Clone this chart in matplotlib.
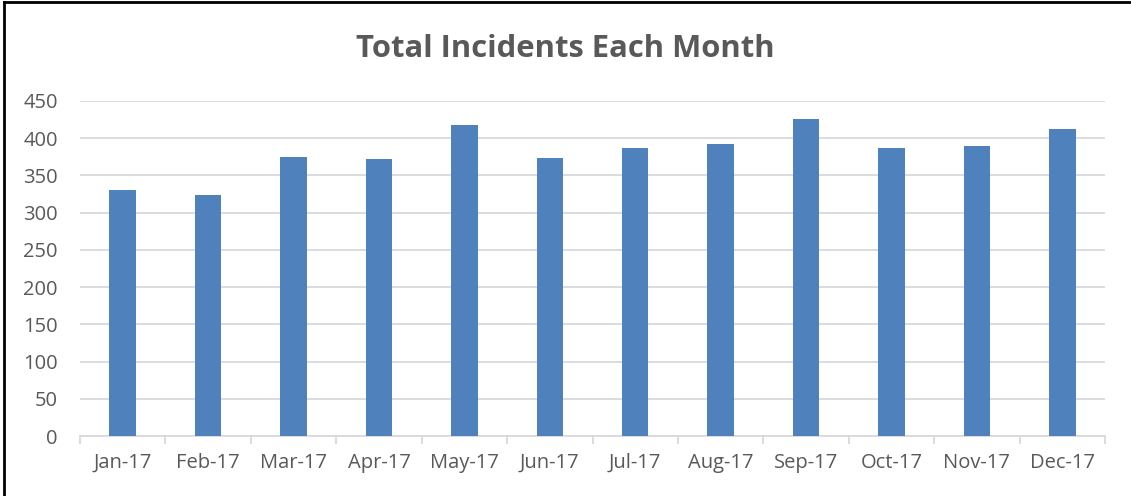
import numpy as np
import matplotlib.pyplot as plt
from matplotlib.lines import Line2D

months = ["Jan-17", "Feb-17", "Mar-17", "Apr-17", "May-17", "Jun-17",
          "Jul-17", "Aug-17", "Sep-17", "Oct-17", "Nov-17", "Dec-17"]
incidents = [330, 324, 375, 372, 418, 374, 387, 392, 426, 387, 389, 413]
y_ticks = [0, 50, 100, 150, 200, 250, 300, 350, 400, 450]

plt.rcParams['font.family'] = ['Open Sans', 'DejaVu Sans']
text_color = "#595959"

fig = plt.figure(figsize=(11.31, 4.96), dpi=100)
ax = fig.add_axes([80 / 1131, 60 / 496, 1025 / 1131, 335 / 496])

x = np.arange(len(months))
ax.bar(x, incidents, width=0.31, color="#4f81bd", zorder=3)

ax.set_xlim(-0.5, len(months) - 0.5)
ax.set_ylim(0, 450)
ax.set_yticks(y_ticks)
ax.yaxis.grid(True, color="#d9d9d9", linewidth=1.3, zorder=0)
ax.tick_params(axis="y", length=0, labelsize=14.5, labelcolor=text_color, pad=16)

ax.set_xticks(x)
ax.set_xticklabels(months)
ax.set_xticks(np.arange(-0.5, len(months)), minor=True)
ax.tick_params(axis="x", which="major", length=0, labelsize=14.5,
               labelcolor=text_color, pad=12)
ax.tick_params(axis="x", which="minor", length=6, color="#d9d9d9", width=1.3)

for side in ["top", "right", "left"]:
    ax.spines[side].set_visible(False)
ax.spines["bottom"].set_color("#d9d9d9")
ax.spines["bottom"].set_linewidth(1.3)

fig.text(0.5, 1 - 57 / 496, "Total Incidents Each Month", ha="center", va="baseline",
         fontsize=22.3, fontweight="bold", color=text_color)

# frame: only top and left edges visible in the screenshot
fig.add_artist(Line2D([4 / 1131, 1], [1 - 2 / 496, 1 - 2 / 496],
                      transform=fig.transFigure, color="black", linewidth=2))
fig.add_artist(Line2D([4 / 1131, 4 / 1131], [0, 1 - 2 / 496],
                      transform=fig.transFigure, color="black", linewidth=2))

fig.savefig("out.png", dpi=100)
